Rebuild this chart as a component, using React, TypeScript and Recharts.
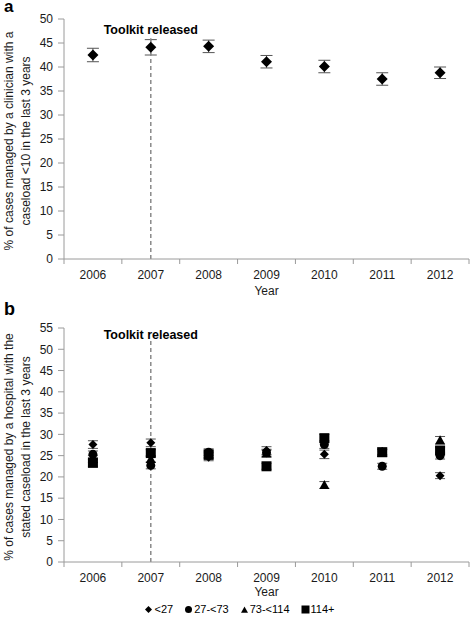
import React from 'react';
import {
  ScatterChart,
  Scatter,
  XAxis,
  YAxis,
  ErrorBar,
  ReferenceLine,
  Legend,
} from 'recharts';

const YEARS = [2006, 2007, 2008, 2009, 2010, 2011, 2012];
const X_TICKS = [2005.5, 2006, 2006.5, 2007, 2007.5, 2008, 2008.5, 2009, 2009.5, 2010, 2010.5, 2011, 2011.5, 2012, 2012.5];

// panel a: clinician caseload <10
const CLINICIAN_PCT = [42.5, 44.1, 44.3, 41.1, 40.1, 37.5, 38.8];
const CLINICIAN_ERR = [1.4, 1.6, 1.3, 1.3, 1.3, 1.3, 1.2];
const TICKS_A = [0, 5, 10, 15, 20, 25, 30, 35, 40, 45, 50];

// panel b: hospital caseload bands
const BANDS = ['<27', '27-<73', '73-<114', '114+'];
const BAND_SHAPES = ['diamond', 'circle', 'triangle', 'square'];
const HOSP_LT27 = [27.6, 28.0, 24.6, 26.2, 25.3, 26.0, 20.3];
const HOSP_27_73 = [25.3, 22.7, 25.8, 25.7, 27.6, 22.5, 25.0];
const HOSP_73_114 = [24.2, 24.2, 25.0, 25.5, 18.1, 25.6, 28.6];
const HOSP_114 = [23.3, 25.6, 25.3, 22.5, 29.1, 25.8, 26.2];
const HOSP_ERR_LT27 = [0.9, 0.9, 0.8, 0.9, 1.0, 0.8, 0.7];
const HOSP_ERR_27_73 = [0.8, 0.8, 0.8, 0.8, 0.9, 0.7, 0.8];
const HOSP_ERR_73_114 = [0.8, 0.8, 0.8, 0.8, 0.8, 0.8, 0.9];
const HOSP_ERR_114 = [0.8, 0.8, 0.8, 0.7, 0.9, 0.7, 0.8];
const TICKS_B = [0, 5, 10, 15, 20, 25, 30, 35, 40, 45, 50, 55];

const AXIS = '#9a9a9a';
const TEXT = '#1a1a1a';

const toRows = (vals: number[], errs: number[]) =>
  YEARS.map((year, i) => ({ year, value: vals[i], err: errs[i] }));

const drawMarker = (kind: string, cx: number, cy: number, s: number) => {
  if (kind === 'circle') return <circle cx={cx} cy={cy} r={s} fill="#000" />;
  if (kind === 'square') return <rect x={cx - s} y={cy - s} width={2 * s} height={2 * s} fill="#000" />;
  if (kind === 'triangle')
    return <polygon points={`${cx},${cy - s} ${cx + s},${cy + s * 0.8} ${cx - s},${cy + s * 0.8}`} fill="#000" />;
  return <polygon points={`${cx},${cy - s} ${cx + s},${cy} ${cx},${cy + s} ${cx - s},${cy}`} fill="#000" />;
};

const Marker = (kind: string, s: number) => (props: any) => {
  const { cx, cy } = props;
  if (cx == null || cy == null) return null;
  return drawMarker(kind, cx, cy, s);
};

const YearTick = (props: any) => {
  const { x, y, payload } = props;
  if (Number.isInteger(payload.value)) {
    return (
      <text x={x} y={y + 14} textAnchor="middle" fontSize={12} fill={TEXT}>
        {payload.value}
      </text>
    );
  }
  return <line x1={x} x2={x} y1={y - 6} y2={y - 1} stroke={AXIS} />;
};

const yTitle = (lines: string[], shift: number) => (props: any) => {
  const vb = props.viewBox || {};
  const cy = vb.y + vb.height / 2 + shift;
  const cx = 13;
  return (
    <text transform={`rotate(-90, ${cx}, ${cy})`} x={cx} y={cy} textAnchor="middle" fontSize={12} fill={TEXT}>
      <tspan x={cx} dy={0}>{lines[0]}</tspan>
      <tspan x={cx} dy={17}>{lines[1]}</tspan>
    </text>
  );
};

const BandLegend = () => (
  <div style={{ display: 'flex', justifyContent: 'center', gap: 11, fontSize: 11, lineHeight: '12px', color: '#000', paddingLeft: 10 }}>
    {BANDS.map((b, i) => (
      <span key={b} style={{ display: 'inline-flex', alignItems: 'center' }}>
        <svg width={9} height={9} style={{ marginRight: 1 }}>
          {drawMarker(BAND_SHAPES[i], 4.5, BAND_SHAPES[i] === 'triangle' ? 5 : 4.5, BAND_SHAPES[i] === 'square' ? 4 : 3.5)}
        </svg>
        {b}
      </span>
    ))}
  </div>
);

const xAxisProps = {
  type: 'number' as const,
  dataKey: 'year',
  domain: [2005.5, 2012.5],
  ticks: X_TICKS,
  interval: 0 as const,
  tickLine: false,
  tickSize: 6,
  tickMargin: 0,
  tick: <YearTick />,
  axisLine: { stroke: AXIS },
  height: 41,
};

const toolkitLabel = (offset: number) => ({
  value: 'Toolkit released',
  position: 'top' as const,
  offset,
  fontSize: 12.5,
  fontWeight: 'bold',
  fill: '#000',
});

export default function App() {
  return (
    <div
      style={{
        position: 'absolute',
        left: 0,
        top: 0,
        width: 472,
        height: 617,
        background: '#fff',
        fontFamily: '"Liberation Sans", Arial, sans-serif',
      }}
    >
      <div style={{ position: 'absolute', left: 4, top: 1, fontSize: 17, lineHeight: '12px', fontWeight: 'bold' }}>a</div>
      <div style={{ position: 'absolute', left: 4, top: 302, fontSize: 18, lineHeight: '14px', fontWeight: 'bold' }}>b</div>

      <div style={{ position: 'absolute', left: 0, top: 0 }}>
        <ScatterChart width={472} height={300} margin={{ top: 19, right: 3, left: 0, bottom: 0 }}>
          <XAxis {...xAxisProps} label={{ value: 'Year', position: 'insideBottom', offset: 5, fontSize: 12, fill: TEXT }} />
          <YAxis
            type="number"
            dataKey="value"
            domain={[0, 50]}
            ticks={TICKS_A}
            interval={0}
            width={64}
            tickSize={6}
            tickMargin={5}
            tick={{ fontSize: 12, fill: TEXT }}
            axisLine={{ stroke: AXIS }}
            tickLine={{ stroke: AXIS }}
            label={{ content: yTitle(['% of cases managed by a clinician with a', 'caseload <10 in the last 3 years'], 2) }}
          />
          <Scatter data={toRows(CLINICIAN_PCT, CLINICIAN_ERR)} fill="#000" shape={Marker('diamond', 5.5)} isAnimationActive={false}>
            <ErrorBar dataKey="err" direction="y" width={6} stroke="#555" strokeWidth={1} />
          </Scatter>
          <ReferenceLine
            segment={[{ x: 2007, y: 0 }, { x: 2007, y: 46 }]}
            stroke="#8a8a8a"
            strokeWidth={1.5}
            strokeDasharray="4 3"
            label={toolkitLabel(4)}
          />
        </ScatterChart>
      </div>

      <div style={{ position: 'absolute', left: 0, top: 300 }}>
        <ScatterChart width={472} height={317} margin={{ top: 28, right: 3, left: 0, bottom: 0 }}>
          <XAxis {...xAxisProps} label={{ value: 'Year', position: 'insideBottom', offset: 7, fontSize: 12, fill: TEXT }} />
          <YAxis
            type="number"
            dataKey="value"
            domain={[0, 55]}
            ticks={TICKS_B}
            interval={0}
            width={64}
            tickSize={6}
            tickMargin={5}
            tick={{ fontSize: 12, fill: TEXT }}
            axisLine={{ stroke: AXIS }}
            tickLine={{ stroke: AXIS }}
            label={{ content: yTitle(['% of cases managed by a hospital with the', 'stated caseload in the last 3 years'], 2) }}
          />
          <Legend verticalAlign="bottom" align="center" height={14} content={<BandLegend />} />
          <Scatter name={BANDS[0]} data={toRows(HOSP_LT27, HOSP_ERR_LT27)} fill="#000" shape={Marker('diamond', 4.5)} isAnimationActive={false}>
            <ErrorBar dataKey="err" direction="y" width={5} stroke="#555" strokeWidth={1} />
          </Scatter>
          <Scatter name={BANDS[1]} data={toRows(HOSP_27_73, HOSP_ERR_27_73)} fill="#000" shape={Marker('circle', 4.5)} isAnimationActive={false}>
            <ErrorBar dataKey="err" direction="y" width={5} stroke="#555" strokeWidth={1} />
          </Scatter>
          <Scatter name={BANDS[2]} data={toRows(HOSP_73_114, HOSP_ERR_73_114)} fill="#000" shape={Marker('triangle', 5)} isAnimationActive={false}>
            <ErrorBar dataKey="err" direction="y" width={5} stroke="#555" strokeWidth={1} />
          </Scatter>
          <Scatter name={BANDS[3]} data={toRows(HOSP_114, HOSP_ERR_114)} fill="#000" shape={Marker('square', 5)} isAnimationActive={false}>
            <ErrorBar dataKey="err" direction="y" width={5} stroke="#555" strokeWidth={1} />
          </Scatter>
          <ReferenceLine
            segment={[{ x: 2007, y: 0 }, { x: 2007, y: 52 }]}
            stroke="#8a8a8a"
            strokeWidth={1.5}
            strokeDasharray="4 3"
            label={toolkitLabel(2)}
          />
        </ScatterChart>
      </div>
    </div>
  );
}
